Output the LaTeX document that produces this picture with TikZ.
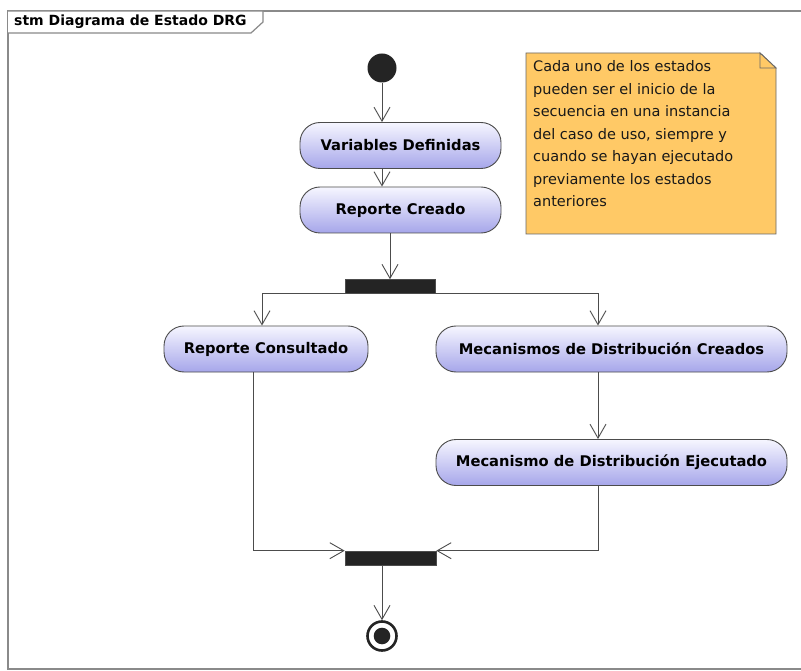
\documentclass[tikz,border=0pt]{standalone}
\usepackage{fontspec}
\setmainfont{DejaVu Sans}
\usetikzlibrary{arrows.meta,calc}

\definecolor{framegray}{HTML}{8A8A8A}
\definecolor{edgegray}{HTML}{4C4C4C}
\definecolor{statetop}{HTML}{F6F6FF}
\definecolor{statebottom}{HTML}{A6A6EA}
\definecolor{notefill}{HTML}{FFC966}
\definecolor{barfill}{HTML}{242424}

\begin{document}
\begin{tikzpicture}[x=1pt,y=-1pt,
  statebox/.style={draw=edgegray, line width=0.9pt, rounded corners=20pt,
    top color=statetop, bottom color=statebottom, minimum height=46pt,
    inner sep=0pt, font=\fontsize{14.7}{17}\selectfont\bfseries},
  syncbar/.style={fill=barfill, draw=edgegray, line width=0.6pt,
    minimum width=90pt, minimum height=14pt, inner sep=0pt},
  flow/.style={draw=edgegray, line width=0.9pt,
    -{Straight Barb[length=14pt,width=16pt,line width=0.9pt]}},
  notetext/.style={inner xsep=7pt, inner ysep=7.5pt, anchor=north west,
    font=\fontsize{14.5}{22.5}\selectfont, text=black!90},
  noteline/.style={draw=edgegray!85, line width=0.9pt, fill=notefill},
]
\useasboundingbox (0,0) rectangle (801,671);
\fill[white] (0,0) rectangle (801,671);

% diagram frame and its name tab
\draw[framegray, line width=1.6pt] (806,11) -- (8,11) -- (8,669) -- (806,669);
\draw[framegray, line width=1.2pt, fill=white]
  (8,11) -- (263,11) -- (263,22) -- (251,33) -- (8,33);
\node[anchor=west, inner sep=0pt, font=\fontsize{14}{16}\selectfont\bfseries]
  (title) at (14,22) {stm Diagrama de Estado DRG};

% initial and final pseudo-states
\node[circle, fill=barfill, minimum size=29pt, inner sep=0pt] (start) at (382,68) {};
\node[circle, draw=barfill, line width=2.6pt, fill=white, minimum size=29pt,
  inner sep=0pt,
  path picture={\fill[barfill] (path picture bounding box.center) circle (8.3pt);}]
  (end) at (382,636) {};

% states
\node[statebox, minimum width=201pt] (vd) at (400.5,145.5) {Variables Definidas};
\node[statebox, minimum width=201pt] (rc) at (400.5,210) {Reporte Creado};
\node[statebox, minimum width=204pt] (rcons) at (266,349) {Reporte Consultado};
\node[statebox, minimum width=351pt] (mdc) at (611.5,349)
  {Mecanismos de Distribución Creados};
\node[statebox, minimum width=351pt] (mde) at (611.5,462.5)
  {Mecanismo de Distribución Ejecutado};

% fork and join bars
\node[syncbar] (fork) at (390,286.5) {};
\node[syncbar, minimum width=91pt] (join) at (390.5,558) {};

% note with folded corner
\path[noteline] (526,53) -- (760,53) -- (776,68) -- (776,234) -- (526,234) -- cycle;
\draw[noteline] (760,53) -- (760,68) -- (776,68) -- cycle;
\node[notetext] (note) at (526,53)
  {\parbox[t][166pt][t]{236pt}{\raggedright
    Cada uno de los estados\\
    pueden ser el inicio de la\\
    secuencia en una instancia\\
    del caso de uso, siempre y\\
    cuando se hayan ejecutado\\
    previamente los estados\\
    anteriores}};

% transitions
\draw[flow] (start) -- (start |- vd.north);
\draw[flow] (start |- vd.south) -- (start |- rc.north);
\draw[flow] (fork.north |- rc.south) -- (fork.north);
\draw[flow] (fork.south west) -| ($(rcons.north)+(-4,0)$);
\draw[flow] (fork.south east) -| ($(mdc.north)+(-13.5,0)$);
\draw[flow] ($(mdc.south)+(-13.5,0)$) -- ($(mde.north)+(-13.5,0)$);
\draw[flow] ($(rcons.south)+(-13,0)$) |- (join.north west);
\draw[flow] ($(mde.south)+(-13.5,0)$) |- (join.north east);
\draw[flow] (join.south -| end) -- (end);
\end{tikzpicture}
\end{document}
